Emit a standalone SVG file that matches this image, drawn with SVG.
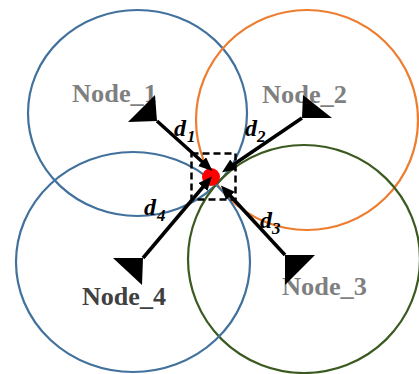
<svg xmlns="http://www.w3.org/2000/svg" width="419" height="374" viewBox="0 0 419 374">
  <defs>
    <style>
      .range { fill: none; stroke-width: 2.2; }
      .blue { stroke: #41719c; }
      .orange { stroke: #ed7d31; }
      .green { stroke: #3b5a20; }
      .label { font-family: "Liberation Serif", "Times New Roman", serif; font-weight: bold; font-size: 25.5px; }
      .grey { fill: #7f7f7f; }
      .dark { fill: #404040; }
      .link { stroke: #000; stroke-width: 3.5; fill: none; marker-end: url(#tip); }
      .anchor { fill: #000; }
      .dist { font-family: "Liberation Serif", "Times New Roman", serif; font-weight: bold; font-style: italic; font-size: 24px; fill: #000; }
      .sub { font-size: 17px; }
    </style>
    <marker id="tip" viewBox="0 0 14 12" refX="8" refY="6" markerWidth="14" markerHeight="12" markerUnits="userSpaceOnUse" orient="auto">
      <path d="M0,0 L14,6 L0,12 Z" fill="#000"/>
    </marker>
  </defs>

  <!-- coverage ranges of the four nodes -->
  <g id="node_1">
    <ellipse class="range blue" cx="137.5" cy="113" rx="109.5" ry="103"/>
    <text class="label grey" x="72" y="102" textLength="85" lengthAdjust="spacingAndGlyphs">Node_1</text>
  </g>
  <g id="node_2">
    <ellipse class="range orange" cx="307" cy="120" rx="111" ry="110"/>
    <text class="label grey" x="262" y="103" textLength="85" lengthAdjust="spacingAndGlyphs">Node_2</text>
  </g>
  <g id="node_3">
    <ellipse class="range green" cx="304" cy="259" rx="116" ry="114"/>
    <text class="label grey" x="282" y="295" textLength="85" lengthAdjust="spacingAndGlyphs">Node_3</text>
  </g>
  <g id="node_4">
    <ellipse class="range blue" cx="133" cy="262" rx="117" ry="110"/>
    <text class="label dark" x="82" y="305" textLength="84" lengthAdjust="spacingAndGlyphs">Node_4</text>
  </g>

  <!-- target position -->
  <g id="target">
    <circle cx="211" cy="177" r="9" fill="#ff0000"/>
  </g>

  <!-- distance vectors from each node towards the target -->
  <g id="connectors">
    <line class="link" x1="157" y1="121" x2="208" y2="167"/>
    <line class="link" x1="302" y1="118" x2="227" y2="169"/>
    <line class="link" x1="285" y1="255" x2="225" y2="190"/>
    <line class="link" x1="143" y1="258" x2="208" y2="181"/>

    <polygon class="anchor" points="155,95 157,121 128,122"/>
    <polygon class="anchor" points="303,95 302,118 332,118"/>
    <polygon class="anchor" points="285,255 315,255 285,285"/>
    <polygon class="anchor" points="113,258 143,258 142,285"/>

    <text class="dist" x="174" y="136">d<tspan class="sub" x="187" y="142">1</tspan></text>
    <text class="dist" x="245" y="136">d<tspan class="sub" x="257" y="142">2</tspan></text>
    <text class="dist" x="260" y="228">d<tspan class="sub" x="272" y="234">3</tspan></text>
    <text class="dist" x="144" y="215">d<tspan class="sub" x="157" y="221">4</tspan></text>
  </g>

  <!-- estimation window -->
  <rect x="191.5" y="153.5" width="44" height="46" fill="none" stroke="#000" stroke-width="2.5" stroke-dasharray="7,4"/>
</svg>
